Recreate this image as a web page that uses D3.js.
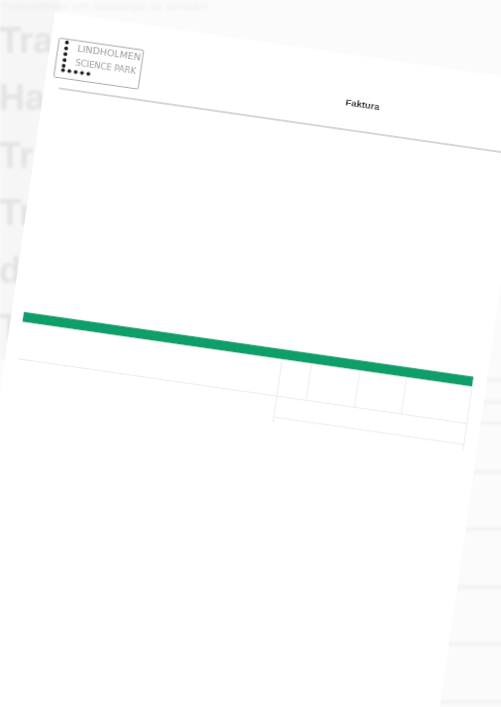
<!DOCTYPE html>
<html>
<head>
<meta charset="utf-8">
<script src="https://cdn.jsdelivr.net/npm/d3@7"></script>
<style>
  body { margin: 0; background: #fbfbfb; }
  svg { display: block; }
</style>
</head>
<body>
<div class="canva"></div>
<script>
// data
const backgroundWords = ['Tra', 'Har', 'Tr', 'Tr', 'd', 'T'];
const logoLines = ['LINDHOLMEN', 'SCIENCE PARK'];
const logoDots = [0, 1, 2, 3, 4, 5, 6, 7, 8, 9]; // 5 down, 5 across
const title = 'Faktura';
const tableColumns = ['A', 'B', 'C', 'D']; // empty cells, no readable headers
const rightLines = [380, 402, 423, 472, 529, 587, 644, 702];

const W = 501, H = 707;

const svg = d3.select('.canva').append('svg')
  .attr('width', W)
  .attr('height', H);

const defs = svg.append('defs');
defs.append('filter').attr('id', 'soft')
  .append('feGaussianBlur').attr('stdDeviation', 0.55);
defs.append('filter').attr('id', 'blurry')
  .attr('x', '-10%').attr('y', '-10%').attr('width', '120%').attr('height', '120%')
  .append('feGaussianBlur').attr('stdDeviation', 1.4);

// background page behind
const back = svg.append('g').attr('filter', 'url(#blurry)');

back.append('rect')
  .attr('x', 0).attr('y', 0)
  .attr('width', 60).attr('height', 360)
  .attr('fill', '#f6f6f6');

const yWord = d3.scalePoint().domain(d3.range(backgroundWords.length)).range([53, 340]);
back.selectAll('text.bg')
  .data(backgroundWords)
  .enter().append('text')
  .attr('class', 'bg')
  .attr('x', -1)
  .attr('y', (d, i) => yWord(i))
  .attr('font-family', 'Liberation Sans, Arial, sans-serif')
  .attr('font-weight', 'bold')
  .attr('font-size', 36)
  .attr('fill', '#e3e3e3')
  .text(d => d);

back.append('text')
  .attr('x', 2).attr('y', 10)
  .attr('font-family', 'Liberation Sans, Arial, sans-serif')
  .attr('font-size', 11)
  .attr('fill', '#eeeeee')
  .text('Transaktioner och betalningar för perioden');

back.selectAll('rect.rl')
  .data(rightLines)
  .enter().append('rect')
  .attr('class', 'rl')
  .attr('x', 440).attr('y', d => d - 1.5)
  .attr('width', 70).attr('height', 3)
  .attr('fill', '#f0f0f0');

// the invoice page, rotated
const angle = 8.2;
const page = svg.append('g')
  .attr('transform', `translate(55,12) rotate(${angle})`)
  .attr('filter', 'url(#soft)');

// page units in mm (A4 width) -> px
const mm = d3.scaleLinear().domain([0, 210]).range([0, 480]);

page.append('rect')
  .attr('x', 0).attr('y', 0)
  .attr('width', mm(210)).attr('height', 1000)
  .attr('fill', '#ffffff');

// logo
const logo = page.append('g');
logo.append('rect')
  .attr('x', mm(3.5)).attr('y', mm(11))
  .attr('width', mm(37.3)).attr('height', mm(17.2))
  .attr('rx', 1.5)
  .attr('fill', 'none')
  .attr('stroke', '#9a9a9a')
  .attr('stroke-width', 0.9);

const dotStep = mm(2.8);
logo.selectAll('circle')
  .data(logoDots)
  .enter().append('circle')
  .attr('cx', d => mm(7.1) + (d < 5 ? 0 : (d - 5) * dotStep))
  .attr('cy', d => mm(12.5) + (d < 5 ? d * (dotStep * 0.92) : 4 * dotStep * 0.92 + dotStep * 0.7))
  .attr('r', 2)
  .attr('fill', '#1a1a1a');

logo.selectAll('text')
  .data(logoLines)
  .enter().append('text')
  .attr('x', mm(12))
  .attr('y', (d, i) => mm(15.8) + i * mm(6))
  .attr('font-family', 'DejaVu Sans, sans-serif')
  .attr('font-size', 8.5)
  .attr('fill', '#999999')
  .attr('textLength', (d, i) => i ? 61 : 64)
  .attr('lengthAdjust', 'spacingAndGlyphs')
  .text(d => d);

// title
page.append('text')
  .attr('x', mm(139))
  .attr('y', mm(22.5))
  .attr('text-anchor', 'middle')
  .attr('font-family', 'Liberation Sans, Arial, sans-serif')
  .attr('font-weight', 'bold')
  .attr('font-size', 9.5)
  .attr('fill', '#222')
  .text(title);

// header rule
page.append('line')
  .attr('x1', mm(6.5)).attr('x2', mm(210))
  .attr('y1', mm(32.8)).attr('y2', mm(32.8))
  .attr('stroke', '#c9c9c9')
  .attr('stroke-width', 1.6);

// green band
page.append('rect')
  .attr('x', mm(5.2)).attr('y', mm(134 - 2.2))
  .attr('width', mm(204) - mm(5.2)).attr('height', mm(4.4))
  .attr('fill', '#0f9e69');

// table grid
const xCol = d3.scaleBand()
  .domain(tableColumns)
  .range([mm(120), mm(204)]);
const colEdges = [mm(120), mm(133), mm(154.4), mm(175), mm(204)];
const grid = page.append('g')
  .attr('stroke', '#ebebeb')
  .attr('stroke-width', 1)
  .attr('fill', 'none');

grid.append('line')
  .attr('x1', mm(5.7)).attr('x2', mm(204))
  .attr('y1', mm(152.5)).attr('y2', mm(152.5));
grid.append('line')
  .attr('x1', xCol.range()[0]).attr('x2', xCol.range()[1])
  .attr('y1', mm(161.8)).attr('y2', mm(161.8));

grid.selectAll('line.col')
  .data(colEdges)
  .enter().append('line')
  .attr('class', 'col')
  .attr('x1', d => d).attr('x2', d => d)
  .attr('y1', mm(137))
  .attr('y2', (d, i) => (i === 0 || i === colEdges.length - 1) ? mm(164) : mm(152.5));
</script>
</body>
</html>
